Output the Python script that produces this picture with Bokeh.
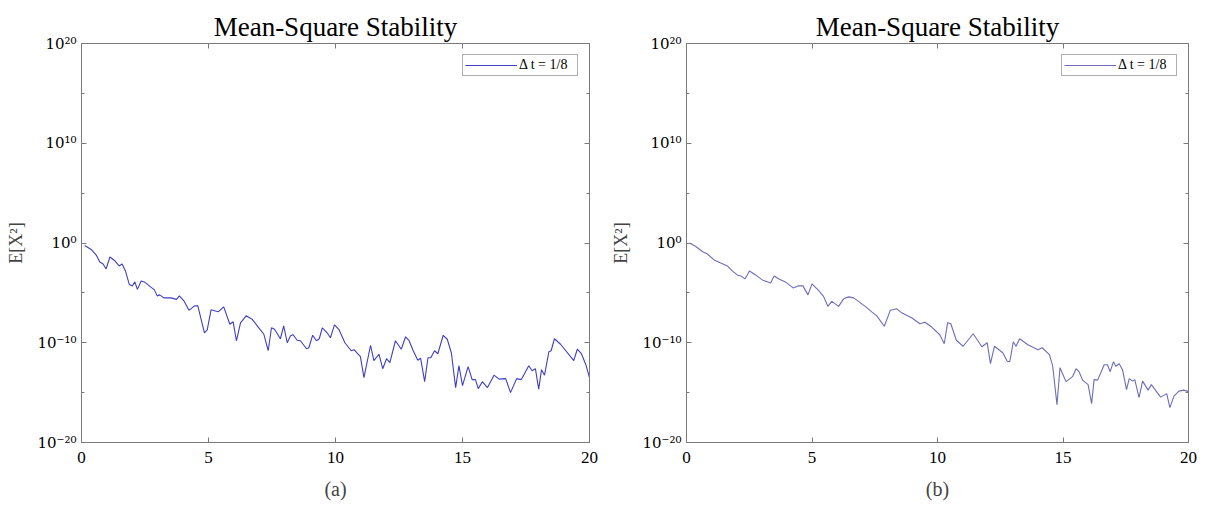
from bokeh.plotting import figure
from bokeh.layouts import row
from bokeh.models import (FixedTicker, LinearAxis, LogAxis, CustomJSTickFormatter, Legend,
                          LegendItem)
from bokeh.embed import file_html
from bokeh.resources import INLINE

# ---- data (time, log10 of E[X^2]) ----
t_a = [0.125, 0.38, 0.59, 0.72, 0.85, 0.97, 1.12, 1.3, 1.48, 1.6, 1.73, 1.88, 2.0, 2.1, 2.2, 2.35, 2.48,
       2.72, 2.87, 2.98, 3.08, 3.24, 3.53, 3.74, 3.85, 4.03, 4.23, 4.45, 4.58, 4.84, 4.95, 5.1, 5.38,
       5.6, 5.84, 5.97, 6.1, 6.26, 6.48, 6.72, 6.98, 7.18, 7.35, 7.48, 7.6, 7.83, 7.96, 8.1, 8.23,
       8.33, 8.49, 8.62, 8.86, 8.95, 9.1, 9.25, 9.36, 9.48, 9.67, 9.8, 9.96, 10.13, 10.37, 10.62,
       10.73, 10.98, 11.12, 11.38, 11.51, 11.71, 11.86, 12.01, 12.14, 12.36, 12.59, 12.76, 12.89,
       13.06, 13.24, 13.35, 13.51, 13.64, 13.75, 13.9, 14.03, 14.24, 14.4, 14.56, 14.73, 14.86, 15.0,
       15.22, 15.38, 15.51, 15.62, 15.78, 15.98, 16.24, 16.44, 16.7, 16.89, 17.13, 17.31, 17.61,
       17.74, 17.87, 18.0, 18.11, 18.23, 18.4, 18.49, 18.62, 18.86, 19.38, 19.52, 19.68, 19.85, 20.0]
log_a = [-0.25, -0.65, -1.25, -1.9, -2.1, -2.6, -1.4, -1.75, -2.3, -2.1, -2.8, -4.15, -4.3, -3.9, -4.65,
         -3.8, -3.9, -4.4, -4.7, -5.3, -5.2, -5.5, -5.5, -5.65, -5.3, -5.8, -6.75, -6.3, -6.3, -9.0,
         -8.7, -6.7, -6.9, -6.4, -8.15, -7.9, -9.8, -8.0, -7.3, -7.65, -8.5, -9.15, -10.8, -8.5, -8.65,
         -9.6, -8.3, -10.0, -9.3, -9.2, -9.75, -9.8, -10.6, -10.5, -9.25, -9.8, -9.6, -8.5, -9.0, -9.5,
         -8.2, -8.65, -10.0, -10.8, -10.7, -11.4, -13.5, -10.25, -11.8, -11.15, -12.6, -11.6, -12.0,
         -9.8, -10.65, -9.4, -9.75, -10.8, -11.75, -11.55, -13.9, -11.5, -11.5, -10.8, -11.1, -9.25,
         -9.65, -11.0, -14.5, -12.3, -14.3, -12.4, -13.7, -13.7, -14.6, -13.9, -14.5, -13.25, -13.65,
         -13.6, -15.0, -13.6, -13.7, -12.3, -12.8, -12.6, -14.65, -12.7, -13.25, -10.9, -10.8, -9.6,
         -10.15, -11.8, -10.65, -11.1, -12.15, -13.5]

t_b = [0.125, 0.37, 0.63, 0.83, 1.1, 1.36, 1.63, 1.8, 2.02, 2.16, 2.33, 2.51, 2.75, 3.02, 3.35, 3.49,
       3.68, 3.94, 4.25, 4.44, 4.64, 4.84, 5.0, 5.26, 5.46, 5.63, 5.79, 6.06, 6.26, 6.46, 6.66, 7.12,
       7.38, 7.58, 7.88, 8.12, 8.38, 8.57, 8.97, 9.3, 9.5, 9.76, 10.09, 10.27, 10.4, 10.53, 10.75,
       11.02, 11.42, 11.77, 11.98, 12.11, 12.27, 12.6, 12.78, 12.88, 13.02, 13.13, 13.27, 13.6, 14.0,
       14.17, 14.46, 14.59, 14.76, 14.88, 15.12, 15.38, 15.52, 15.65, 15.78, 16.0, 16.14, 16.24,
       16.38, 16.64, 16.77, 16.88, 17.01, 17.1, 17.24, 17.37, 17.53, 17.64, 17.77, 17.86, 18.03,
       18.17, 18.39, 18.52, 18.89, 19.13, 19.26, 19.42, 19.62, 19.81, 20.0]
log_b = [0.0, -0.35, -0.85, -1.1, -1.7, -2.0, -2.3, -2.75, -3.2, -3.3, -3.6, -2.8, -3.2, -3.7, -4.0,
         -3.3, -3.6, -3.9, -4.5, -4.3, -4.3, -5.2, -4.1, -4.75, -5.35, -6.35, -5.85, -6.35, -5.6, -5.4,
         -5.5, -6.35, -6.9, -7.3, -8.35, -6.75, -6.6, -7.0, -7.5, -8.1, -7.95, -8.4, -9.2, -10.1, -8.0,
         -8.1, -9.75, -10.35, -9.1, -10.4, -10.0, -12.1, -10.35, -11.0, -11.85, -11.9, -9.9, -10.35,
         -9.6, -10.2, -10.7, -10.5, -11.2, -12.35, -16.2, -12.5, -13.9, -13.4, -12.6, -12.95, -13.75,
         -14.2, -16.1, -13.7, -13.75, -12.2, -12.2, -12.9, -11.9, -12.35, -12.1, -12.7, -14.7, -13.6,
         -13.85, -13.7, -15.5, -13.85, -14.75, -14.2, -15.45, -15.1, -16.5, -15.35, -14.85, -14.75,
         -14.9]

x_ticks = [0, 5, 10, 15, 20]
y_exponents = [-20, -10, 0, 10, 20]
y_minor_exponents = [-15, -5, 5, 15]
title_text = "Mean-Square Stability"
legend_text = "\u0394 t = 1/8"
ylabel = "E[X\u00b2]"
captions = ["(a)", "(b)"]

FONT = "Liberation Serif"
AX = "#7a7a7a"

sup_js = """
const sup = {'0':'\\u2070','1':'\\u00b9','2':'\\u00b2','3':'\\u00b3','4':'\\u2074','5':'\\u2075',
             '6':'\\u2076','7':'\\u2077','8':'\\u2078','9':'\\u2079','-':'\\u207b'};
const e = Math.round(Math.log10(tick));
return '10' + String(e).split('').map(c => sup[c]).join('');
"""


def style_axis(ax, labels=True):
    ax.axis_line_color = AX
    ax.major_tick_line_color = AX
    ax.minor_tick_line_color = AX
    ax.major_tick_in = 5
    ax.major_tick_out = 0
    ax.minor_tick_in = 3
    ax.minor_tick_out = 0
    ax.major_label_text_font = FONT
    ax.major_label_text_color = "#000000"
    ax.major_label_text_font_size = "16px"
    if not labels:
        ax.formatter = CustomJSTickFormatter(code="return '';")
        ax.major_label_text_font_size = "1px"
        ax.major_label_standoff = 0


def make(t, lg, color, width, bl, br, caption):
    y_ticks = [10.0 ** e for e in y_exponents]
    y_minor = [10.0 ** e for e in y_minor_exponents]
    p = figure(width=width, height=502, y_axis_type="log", x_range=(0, 20), y_range=(1e-20, 1e20),
               output_backend="svg", toolbar_location=None,
               min_border_left=bl, min_border_right=br, min_border_top=43, min_border_bottom=58)
    p.grid.visible = False
    p.outline_line_color = None
    p.background_fill_color = "white"
    p.border_fill_color = "white"

    p.title.text = title_text
    p.title.align = "center"
    p.title.text_font = FONT
    p.title.text_font_size = "27px"
    p.title.text_font_style = "normal"
    p.title.text_color = "#000000"
    p.title.standoff = 4

    xa = p.xaxis[0]
    xa.ticker = FixedTicker(ticks=x_ticks, minor_ticks=[])
    style_axis(xa)
    xa.major_label_text_font_size = "17px"
    xa.major_label_standoff = 9
    xa.axis_label = caption
    xa.axis_label_text_font = FONT
    xa.axis_label_text_font_style = "normal"
    xa.axis_label_text_font_size = "20px"
    xa.axis_label_standoff = 12

    ya = p.yaxis[0]
    ya.ticker = FixedTicker(ticks=y_ticks, minor_ticks=y_minor)
    style_axis(ya)
    ya.formatter = CustomJSTickFormatter(code=sup_js)
    ya.major_label_text_font = "DejaVu Serif"
    ya.major_label_text_font_size = "15px"
    ya.major_label_standoff = 5
    ya.axis_label = ylabel
    ya.axis_label_text_font = FONT
    ya.axis_label_text_font_style = "normal"
    ya.axis_label_text_font_size = "18px"
    ya.axis_label_standoff = 8

    top = LinearAxis(ticker=FixedTicker(ticks=x_ticks, minor_ticks=[]))
    style_axis(top, labels=False)
    p.add_layout(top, "above")
    right = LogAxis(ticker=FixedTicker(ticks=y_ticks, minor_ticks=y_minor))
    style_axis(right, labels=False)
    p.add_layout(right, "right")

    vals = [10 ** v for v in lg]
    r = p.line(t, vals, line_color=color, line_width=1.1)

    leg = Legend(items=[LegendItem(label=legend_text, renderers=[r])], location="top_right")
    leg.label_text_font = FONT
    leg.label_text_font_size = "14px"
    leg.label_text_color = "#000000"
    leg.glyph_width = 52
    leg.glyph_height = 14
    leg.label_height = 14
    leg.label_width = 56
    leg.padding = 2
    leg.spacing = 0
    leg.margin = 11
    leg.label_standoff = 2
    leg.border_line_color = "#606060"
    leg.border_line_width = 1
    p.add_layout(leg)
    return p


p1 = make(t_a, log_a, "#3f3fc4", 608, 81, 19, captions[0])
p2 = make(t_b, log_b, "#6d6dba", 591, 76, 11, captions[1])

layout = row(p1, p2)
open("out.html", "w").write(file_html(layout, INLINE))
